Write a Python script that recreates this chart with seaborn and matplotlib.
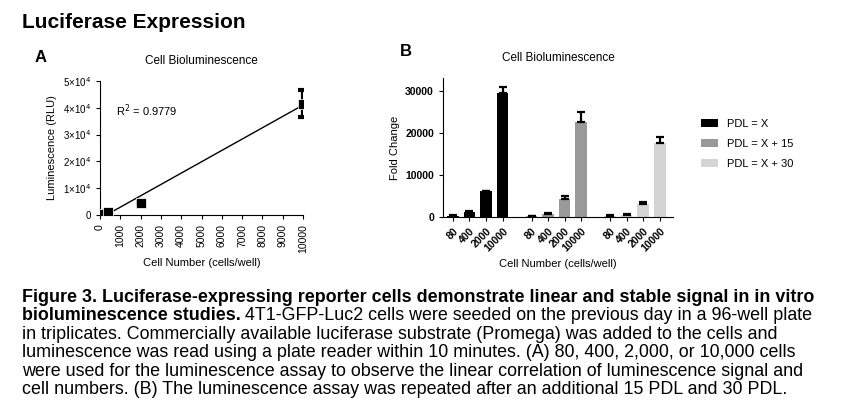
import numpy as np
import pandas as pd
import matplotlib
matplotlib.use("Agg")
import matplotlib.pyplot as plt
import seaborn as sns

plt.rcParams["font.family"] = "Liberation Sans"

# Panel A data
cells_a = [80, 400, 2000, 10000]
lum_a = [300, 1300, 4500, 41500]
lum_err = [100, 200, 300, 5000]

# Panel B data
cell_labels = ["80", "400", "2000", "10000"]
groups = ["PDL = X", "PDL = X + 15", "PDL = X + 30"]
fold_x = [300, 1200, 6100, 29600]
fold_x15 = [150, 700, 4400, 22800]
fold_x30 = [350, 500, 3000, 17700]
err_x = [100, 200, 150, 1500]
err_x15 = [50, 150, 700, 2300]
err_x30 = [80, 100, 700, 1500]
colors = ["#000000", "#999999", "#d4d4d4"]

fig = plt.figure(figsize=(8.46, 4.18), dpi=100)

fig.text(22/846, 1-22/418, "Luciferase Expression", fontsize=15, fontweight="bold", va="center")
fig.text(35/846, 1-58/418, "A", fontsize=12, fontweight="bold", va="center")
fig.text(400/846, 1-52/418, "B", fontsize=12, fontweight="bold", va="center")

# ---- Panel A
axA = fig.add_axes([100/846, 1-215/418, 203/846, 134/418])
df_a = pd.DataFrame({"cells": cells_a, "lum": lum_a})
sns.scatterplot(data=df_a, x="cells", y="lum", marker="s", s=45, color="black", ax=axA, zorder=3)
axA.errorbar(cells_a, lum_a, yerr=lum_err, fmt="none", ecolor="black", elinewidth=3, capsize=3.5, capthick=3)
k, b = np.polyfit(cells_a, lum_a, 1)
xs = np.array([400, 10000])
axA.plot(xs, k*xs + b, color="black", lw=1)
axA.set_xlim(0, 10000)
axA.set_ylim(0, 50000)
axA.set_xticks(range(0, 10001, 1000))
axA.set_xticklabels([str(v) for v in range(0, 10001, 1000)], rotation=90, fontsize=7.5)
axA.set_yticks(range(0, 50001, 10000))
axA.set_yticklabels(["0"] + [f"{i}×10$^4$" for i in range(1, 6)], fontsize=7)
axA.set_xlabel("Cell Number (cells/well)", fontsize=8)
axA.set_ylabel("Luminescence (RLU)", fontsize=8)
axA.set_title("Cell Bioluminescence", fontsize=8.5, pad=12)
axA.text(800, 37000, "R$^2$ = 0.9779", fontsize=8)
sns.despine(ax=axA)
axA.tick_params(length=3, width=0.8)

# ---- Panel B
axB = fig.add_axes([443/846, 1-217/418, 230/846, 139/418])
rows = []
for gi, (g, vals, errs) in enumerate(zip(groups, [fold_x, fold_x15, fold_x30], [err_x, err_x15, err_x30])):
    for ci, (lab, v, e) in enumerate(zip(cell_labels, vals, errs)):
        rows.append({"group": g, "cells": lab, "pos": gi*4.75 + ci, "val": v, "err": e})
df_b = pd.DataFrame(rows)
sns.barplot(data=df_b, x="pos", y="val", hue="group", palette=colors, native_scale=True,
            dodge=False, width=0.7, errorbar=None, ax=axB)
for c, g in zip(colors, groups):
    sub = df_b[df_b.group == g]
    axB.errorbar(sub.pos, sub.val, yerr=[np.zeros(len(sub)), sub.err], fmt="none",
                 ecolor="black", elinewidth=1.6, capsize=3, capthick=1.6)
axB.set_xlim(-0.6, df_b.pos.max() + 0.8)
axB.set_ylim(0, 33200)
axB.set_yticks([0, 10000, 20000, 30000])
axB.set_yticklabels(["0", "10000", "20000", "30000"], fontsize=7.5, fontweight="bold")
axB.set_xticks(df_b.pos)
axB.set_xticklabels(df_b.cells, rotation=45, ha="right", rotation_mode="anchor", fontsize=7.5, fontweight="bold")
axB.set_xlabel("Cell Number (cells/well)", fontsize=8)
axB.set_ylabel("Fold Change", fontsize=8)
axB.set_title("Cell Bioluminescence", fontsize=8.5, pad=12)
axB.legend(loc="upper left", bbox_to_anchor=(1.08, 0.78), frameon=False, fontsize=8,
           handlelength=1.5, handleheight=0.8, labelspacing=0.9)
sns.despine(ax=axB)
axB.tick_params(length=3, width=0.8)

# ---- Caption
fs = 12.9
y0 = 1 - 297/418
dy = 18.6/418
fig.text(22/846, y0, "Figure 3. Luciferase-expressing reporter cells demonstrate linear and stable signal in in vitro",
         fontsize=fs, fontweight="bold", va="center")
bold2 = fig.text(22/846, y0 - dy, "bioluminescence studies.", fontsize=fs, fontweight="bold", va="center")
fig.canvas.draw()
x_end = bold2.get_window_extent().x1 / fig.bbox.width
fig.text(x_end + 4/846, y0 - dy, "4T1-GFP-Luc2 cells were seeded on the previous day in a 96-well plate",
         fontsize=fs, va="center")
rest = ["in triplicates. Commercially available luciferase substrate (Promega) was added to the cells and",
        "luminescence was read using a plate reader within 10 minutes. (A) 80, 400, 2,000, or 10,000 cells",
        "were used for the luminescence assay to observe the linear correlation of luminescence signal and",
        "cell numbers. (B) The luminescence assay was repeated after an additional 15 PDL and 30 PDL."]
for i, line in enumerate(rest):
    fig.text(22/846, y0 - (i+2)*dy, line, fontsize=fs, va="center")

fig.savefig("out.png", dpi=100)
